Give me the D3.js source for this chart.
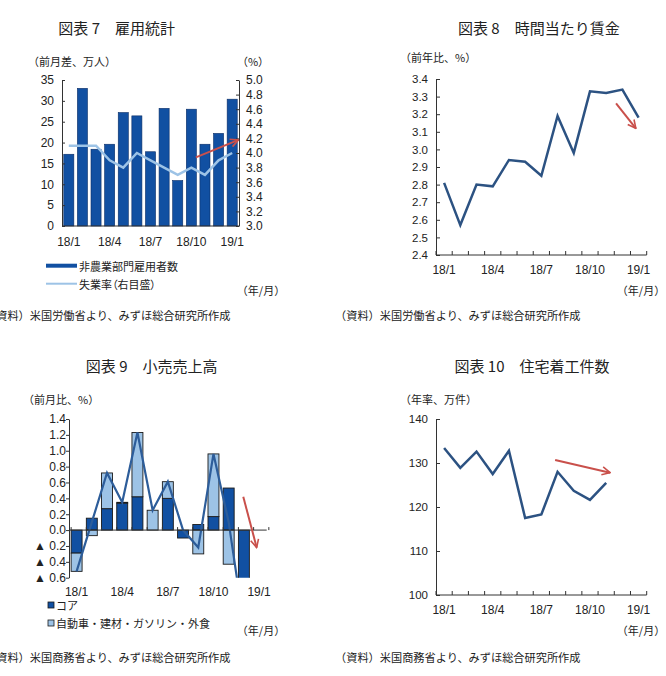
<!DOCTYPE html>
<html><head><meta charset="utf-8">
<script src="https://cdn.jsdelivr.net/npm/d3@7"></script>
<style>
body{margin:0;background:#fff}
svg{display:block}
text{font-family:"Liberation Sans","Noto Sans CJK JP",sans-serif;fill:#222}
.jp{font-family:"Noto Sans CJK JP",sans-serif}
.palt{font-feature-settings:"palt"}
</style>
</head><body>
<svg id="c" width="666" height="676"></svg>
<script>
// ---------- data ----------
const months = ["18/1","18/2","18/3","18/4","18/5","18/6","18/7","18/8","18/9","18/10","18/11","18/12","19/1"];
const monthLabels = ["18/1","18/4","18/7","18/10","19/1"];

// 図表7
const payrolls = [17.2,33.0,18.4,19.6,27.2,26.4,17.8,28.2,10.9,28.0,19.6,22.2,30.4];
const unemployment = [4.1,4.1,4.1,3.9,3.8,4.0,3.9,3.8,3.7,3.8,3.7,3.9,4.0];
const payrollTicks = [0,5,10,15,20,25,30,35];
const unempTicks = [3.0,3.2,3.4,3.6,3.8,4.0,4.2,4.4,4.6,4.8,5.0];

// 図表8
const wages = [2.81,2.57,2.80,2.79,2.94,2.93,2.85,3.19,2.98,3.33,3.32,3.34,3.18];
const wageTicks = [2.4,2.5,2.6,2.7,2.8,2.9,3.0,3.1,3.2,3.3,3.4];

// 図表9
const retailMonths = ["18/1","18/2","18/3","18/4","18/5","18/6","18/7","18/8","18/9","18/10","18/11","18/12"];
const retailCore  = [-0.29,0.15,0.27,0.34,0.42,0.00,0.40,-0.10,0.07,0.17,0.53,-1.70];
const retailOther = [-0.23,-0.07,0.45,0.01,0.81,0.25,0.21,0.00,-0.30,0.79,-0.43,-0.10];
const retailTotal = [-0.52,0.10,0.72,0.35,1.23,0.25,0.61,0.00,-0.22,0.96,0.10,-1.20];
const retailTicks = [-0.6,-0.4,-0.2,0,0.2,0.4,0.6,0.8,1.0,1.2,1.4];

// 図表10
const housingMonths = ["18/1","18/2","18/3","18/4","18/5","18/6","18/7","18/8","18/9","18/10","18/11"];
const housingStarts = [133.4,128.9,132.6,127.5,132.8,117.5,118.3,128.0,123.7,121.6,125.5];
const housingTicks = [100,110,120,130,140];

// ---------- style ----------
const DARK = "#1150a2", DARK_EDGE = "#0b2d66", LIGHT = "#9dc3e6", NAVY = "#2c5282", RED = "#c9504b", AXIS = "#333";

const svg = d3.select("#c");
const defs = svg.append("defs");
defs.append("marker").attr("id","arr").attr("viewBox","0 0 10 10")
  .attr("refX",9).attr("refY",5).attr("markerWidth",10).attr("markerHeight",10)
  .attr("markerUnits","userSpaceOnUse").attr("orient","auto")
  .append("path").attr("d","M1,1 L9,5 L1,9").attr("fill","none").attr("stroke",RED).attr("stroke-width",1.6);

function txt(x,y,s,opt={}){
  return svg.append("text").attr("x",x).attr("y",y).attr("dominant-baseline","central")
    .attr("text-anchor",opt.anchor||"start").attr("font-size",opt.size||11)
    .attr("class",opt.cls||"jp").text(s);
}
function styleAxis(g,size,family){
  g.selectAll("path.domain").attr("stroke",AXIS);
  g.selectAll(".tick line").attr("stroke",AXIS);
  g.selectAll("text").attr("font-size",size||12).attr("fill","#222")
    .attr("font-family",family||"'Liberation Sans','Noto Sans CJK JP',sans-serif");
}
const YFONT = "'DejaVu Sans','Noto Sans CJK JP',sans-serif";
function boundaryTicks(g,x,y0,len){
  const step = x.step(), r = x.range();
  d3.range(x.domain().length+1).forEach(i=>{
    const xx = r[0]+x.paddingOuter()*step + i*step;
    g.append("line").attr("x1",xx).attr("x2",xx).attr("y1",y0).attr("y2",y0-len).attr("stroke",AXIS);
  });
}
function arrow(x1,y1,x2,y2){
  svg.append("line").attr("x1",x1).attr("y1",y1).attr("x2",x2).attr("y2",y2)
    .attr("stroke",RED).attr("stroke-width",2).attr("marker-end","url(#arr)");
}
function xLabels(x,y,pad){
  const g = svg.append("g").attr("transform",`translate(0,${y})`)
    .call(d3.axisBottom(x).tickValues(monthLabels).tickSize(0).tickPadding(pad));
  g.select("path.domain").remove();
  styleAxis(g,12);
  return g;
}

// ================= 図表7 =================
{
  const L=62,R=239,T=80,B=226;
  const x = d3.scaleBand().domain(months).range([L,R]).paddingInner(0.26).paddingOuter(0.13);
  const y = d3.scaleLinear().domain([0,35]).range([B,T]);
  const y2 = d3.scaleLinear().domain([3.0,5.0]).range([B,T]);
  txt(116.7,27,"図表 7　雇用統計",{anchor:"middle",size:15});
  txt(28,61,"（前月差、万人）");
  txt(253,61,"（%）",{anchor:"middle"});

  svg.append("g").selectAll("rect").data(payrolls).join("rect")
    .attr("x",(d,i)=>x(months[i])).attr("width",x.bandwidth())
    .attr("y",d=>y(d)).attr("height",d=>B-y(d))
    .attr("fill",DARK).attr("stroke",DARK_EDGE).attr("stroke-width",0.6);

  const gl = svg.append("g").attr("transform",`translate(${L},0)`)
    .call(d3.axisLeft(y).tickValues(payrollTicks).tickSize(-3).tickPadding(8).tickSizeOuter(0));
  styleAxis(gl,12,YFONT);
  const gr = svg.append("g").attr("transform",`translate(${R},0)`)
    .call(d3.axisRight(y2).tickValues(unempTicks).tickFormat(d3.format(".1f")).tickSize(-3).tickPadding(7).tickSizeOuter(0));
  styleAxis(gr,12,YFONT);
  svg.append("line").attr("x1",L).attr("x2",R).attr("y1",B).attr("y2",B).attr("stroke",AXIS);
  xLabels(x,B,11);

  const line = d3.line().x((d,i)=>x(months[i])+x.bandwidth()/2).y(d=>y2(d));
  svg.append("path").datum(unemployment).attr("d",line)
    .attr("fill","none").attr("stroke",LIGHT).attr("stroke-width",2.5);

  const xc = i => L + i*x.step();
  arrow(xc(9.83), y2(3.94), xc(12.96), y2(4.18));

  // legend
  svg.append("line").attr("x1",46).attr("x2",77).attr("y1",265.7).attr("y2",265.7).attr("stroke",DARK).attr("stroke-width",4);
  txt(79,265.7,"非農業部門雇用者数");
  svg.append("line").attr("x1",46).attr("x2",77).attr("y1",283.7).attr("y2",283.7).attr("stroke",LIGHT).attr("stroke-width",2);
  txt(79,283.7,"失業率（右目盛）",{cls:"jp palt"});
  txt(261,290,"（年/月）",{anchor:"middle"});
  txt(-15,315,"（資料）米国労働省より、みずほ総合研究所作成",{size:11.2});
}

// ================= 図表8 =================
{
  const L=436,R=646.7,T=79,B=255;
  const x = d3.scaleBand().domain(months).range([L,R]);
  const y = d3.scaleLinear().domain([2.4,3.4]).range([B,T]);
  txt(538.8,27,"図表 8　時間当たり賃金",{anchor:"middle",size:15});
  txt(400,57,"（前年比、%）");
  const gl = svg.append("g").attr("transform",`translate(${L},0)`)
    .call(d3.axisLeft(y).tickValues(wageTicks).tickFormat(d3.format(".1f")).tickSize(-4).tickPadding(8).tickSizeOuter(0));
  styleAxis(gl,11.5,YFONT);
  const gx = svg.append("g");
  gx.append("line").attr("x1",L).attr("x2",R).attr("y1",B).attr("y2",B).attr("stroke",AXIS);
  boundaryTicks(gx,x,B,4);
  xLabels(x,B,10.5);
  const line = d3.line().x((d,i)=>x(months[i])+x.bandwidth()/2).y(d=>y(d));
  svg.append("path").datum(wages).attr("d",line).attr("fill","none").attr("stroke",NAVY).attr("stroke-width",2.5);
  const xc = i => L + i*x.step();
  arrow(xc(11.11), y(3.262), xc(12.33), y(3.12));
  txt(641,290,"（年/月）",{anchor:"middle"});
  txt(335,315,"（資料）米国労働省より、みずほ総合研究所作成",{size:11.2});
}

// ================= 図表9 =================
{
  const L=69,R=266.7,T=419,B=577.7;
  const x = d3.scaleBand().domain(months).range([L,R]).paddingInner(0.28).paddingOuter(0.14);
  const y = d3.scaleLinear().domain([-0.6,1.4]).range([B,T]);
  txt(151.7,365,"図表 9　小売売上高",{anchor:"middle",size:15});
  txt(23,399,"（前月比、%）");

  const rows = retailMonths.map((m,i)=>({m, core:retailCore[i], other:retailOther[i]}));
  const stack = d3.stack().keys(["core","other"]).offset(d3.stackOffsetDiverging)(rows);
  const clip = defs.append("clipPath").attr("id","clip9");
  clip.append("rect").attr("x",L).attr("y",T-2).attr("width",R-L).attr("height",B-T+2);
  const gb = svg.append("g").attr("clip-path","url(#clip9)");
  const colors = {core:DARK, other:LIGHT};
  stack.forEach(s=>{
    gb.append("g").selectAll("rect").data(s).join("rect")
      .attr("x",d=>x(d.data.m)).attr("width",x.bandwidth())
      .attr("y",d=>y(Math.max(d[0],d[1]))).attr("height",d=>Math.abs(y(d[0])-y(d[1])))
      .attr("fill",colors[s.key]).attr("stroke","#1a1a1a").attr("stroke-width",0.9);
  });
  const line = d3.line().x((d,i)=>x(retailMonths[i])+x.bandwidth()/2).y(d=>y(d));
  gb.append("path").datum(retailTotal).attr("d",line).attr("fill","none").attr("stroke","#2d5d9a").attr("stroke-width",2.2);

  const gl = svg.append("g").attr("transform",`translate(${L},0)`)
    .call(d3.axisLeft(y).tickValues(retailTicks)
      .tickFormat(d=>d<-1e-9?"▲ "+Math.abs(d).toFixed(1):d.toFixed(1)).tickSize(3).tickPadding(0).tickSizeOuter(0));
  styleAxis(gl,12,YFONT);
  const gx = svg.append("g");
  gx.append("line").attr("x1",L).attr("x2",R).attr("y1",y(0)).attr("y2",y(0)).attr("stroke",AXIS);
  boundaryTicks(gx,x,y(0),3);
  xLabels(x,B,10);
  const xc = i => L + i*x.step();
  arrow(xc(11.46), y(0.42), xc(12.34), y(-0.22));

  // legend
  svg.append("rect").attr("x",48).attr("y",602).attr("width",6).attr("height",6).attr("fill",DARK).attr("stroke","#1a1a1a").attr("stroke-width",0.8);
  txt(56,605,"コア");
  svg.append("rect").attr("x",48).attr("y",620).attr("width",6).attr("height",6).attr("fill",LIGHT).attr("stroke","#1a1a1a").attr("stroke-width",0.8);
  txt(56,623,"自動車・建材・ガソリン・外食");
  txt(261,630,"（年/月）",{anchor:"middle"});
  txt(-15,657,"（資料）米国商務省より、みずほ総合研究所作成",{size:11.2});
}

// ================= 図表10 =================
{
  const L=436,R=646.7,T=419,B=595;
  const x = d3.scaleBand().domain(months).range([L,R]);
  const y = d3.scaleLinear().domain([100,140]).range([B,T]);
  txt(532,365,"図表 10　住宅着工件数",{anchor:"middle",size:15});
  txt(400,399,"（年率、万件）");
  const gl = svg.append("g").attr("transform",`translate(${L},0)`)
    .call(d3.axisLeft(y).tickValues(housingTicks).tickSize(-4).tickPadding(8).tickSizeOuter(0));
  styleAxis(gl,11.5,YFONT);
  const gx = svg.append("g");
  gx.append("line").attr("x1",L).attr("x2",R).attr("y1",B).attr("y2",B).attr("stroke",AXIS);
  boundaryTicks(gx,x,B,4);
  xLabels(x,B,10.5);
  const line = d3.line().x((d,i)=>x(housingMonths[i])+x.bandwidth()/2).y(d=>y(d));
  svg.append("path").datum(housingStarts).attr("d",line).attr("fill","none").attr("stroke",NAVY).attr("stroke-width",2.5);
  const xc = i => L + i*x.step();
  arrow(xc(7.35), y(130.7), xc(10.74), y(127.8));
  txt(641,630,"（年/月）",{anchor:"middle"});
  txt(335,657,"（資料）米国商務省より、みずほ総合研究所作成",{size:11.2});
}
</script>
</body></html>
